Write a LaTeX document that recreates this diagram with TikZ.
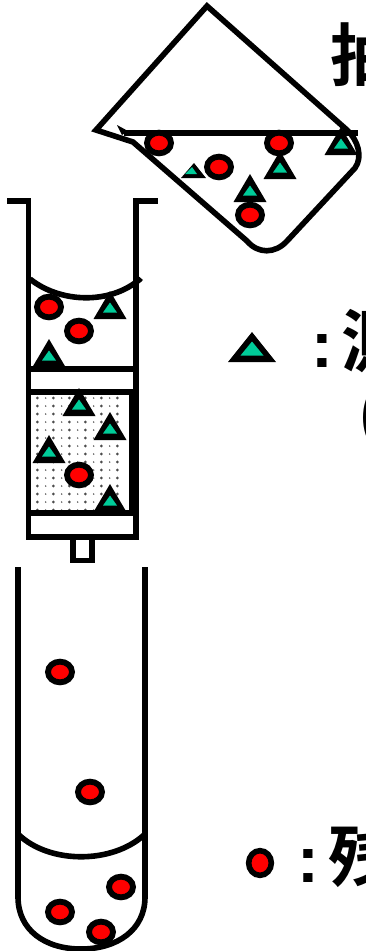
\documentclass[tikz,border=0pt]{standalone}
\usepackage{fontspec}
\usetikzlibrary{shapes.geometric}
\newfontfamily\cjk{Noto Sans CJK JP Bold}
\newfontfamily\colonfont{Liberation Sans Bold}
\definecolor{tgreen}{RGB}{0,204,153}
\tikzset{
  x=0.75pt,y=-0.75pt,
  wall/.style={draw=black,line width=4.2pt,line join=miter},
  bead/.style={ellipse,draw=black,fill=red,line width=4.4pt,inner sep=0pt,minimum width=18pt,minimum height=15.5pt},
  legendbead/.style={bead,line width=4.2pt,minimum width=17pt,minimum height=18.5pt},
  label/.style={inner sep=0pt,anchor=base west,font=\cjk\fontsize{51}{51}\selectfont},
  colonlabel/.style={inner sep=0pt,anchor=base west,font=\colonfont\fontsize{49}{49}\selectfont},
  tri/.pic={
    \fill[black] (-16.5,0) -- (0,-28) -- (16.5,0) -- cycle;
    \fill[tgreen] (-7,-6.5) -- (0,-16.5) -- (7,-6.5) -- cycle;
  },
  bigtri/.pic={
    \fill[black] (-24,0) -- (0,-30) -- (24,0) -- cycle;
    \fill[tgreen] (-11.5,-6.5) -- (0,-20.5) -- (11.5,-6.5) -- cycle;
  }
}
\begin{document}
\begin{tikzpicture}
\useasboundingbox (0,0) rectangle (366,951);
\clip (0,0) rectangle (366,951);
% packed filter
\foreach \i in {0,...,5} \foreach \j in {0,...,14} {
  \fill[black!70] ({37.3+16*\i},{398+8*\j}) circle (1.15pt);
  \ifnum\i<5 \fill[black!70] ({45.7+16*\i},{398+8*\j}) circle (0.6pt); \fi
}
% pouring vessel
\coordinate (apex) at (207,6);
\path pic at (341,155) {tri} pic at (280,179) {tri} pic at (250,202) {tri};
\fill[black] (181,178) -- (194,163) -- (206,178) -- cycle;
\fill[tgreen] (185,174) -- (192,167) -- (197,174) -- cycle;
\draw[wall] (apex) -- (347,130) .. controls (358,140) and (363,157) .. (355,168)
  -- (287,241) .. controls (275,254) and (258,254) .. (247,241) -- (133,142) -- (96,130) -- cycle;
\coordinate (lipA) at (124,133);
\coordinate (lipB) at (358,133);
\draw[wall] (lipA) -- (lipB);
\fill[black] (117,125) -- (128,131) -- (122,135) -- cycle;
\node[bead] (b1) at (159,143) {};
\node[bead] (b2) at (279,143) {};
\node[bead] (b3) at (219,167) {};
\node[bead] (b4) at (250,215) {};
% column
\coordinate (fl) at (7,201);
\coordinate (tl) at (28.5,201);
\coordinate (bl) at (28.5,537);
\coordinate (br) at (136,537);
\coordinate (tr) at (136,201);
\coordinate (fr) at (158,201);
\draw[wall] (fl) -- (tl) -- (bl) -- (br) -- (tr) -- (fr);
\draw[wall] (30,279) .. controls (60,303) and (110,305) .. (140,279);
\fill[black] (136,274) -- (143,280) -- (136,286) -- cycle;
\draw[wall] (28.5,369) -- (136,369);
\draw[wall] (28.5,392) -- (136,392);
\draw[wall,line width=4.5pt] (28.5,513) -- (136,513);
\fill[black] (129,392) rectangle (136,513);
\draw[wall] (73,537) -- (73,560.5) -- (92,560.5) -- (92,537);
\path pic at (110,319) {tri} pic at (49,367) {tri} pic at (79,416) {tri}
  pic at (110,440) {tri} pic at (49,463) {tri} pic at (110,512) {tri};
\node[bead] (c1) at (49,307) {};
\node[bead] (c2) at (79,331) {};
\node[bead] (c3) at (79,475) {};
% tube
\draw[wall] (18,567) -- (18,897) .. controls (18,930) and (45,949) .. (81,949)
  .. controls (117,949) and (145,930) .. (145,897) -- (145,567);
\draw[wall] (19,835) .. controls (50,864) and (112,864) .. (144,835);
\node[bead] (d1) at (60,672) {};
\node[bead] (d2) at (90,792) {};
\node[bead] (d3) at (121,887) {};
\node[bead] (d4) at (60,912) {};
\node[bead] (d5) at (101,932) {};
% legend
\path pic at (252,362) {bigtri};
\node[legendbead] (l1) at (260,863) {};
% texts
\node[label] (t1) at (330,80) {抽};
\node[colonlabel] (t2) at (311,367) {:};
\node[label] (t3) at (341,366) {測};
\node[label,font=\cjk\fontsize{44}{44}\selectfont] (t4) at (358,436) {(};
\node[colonlabel] (t5) at (297,882) {:};
\node[label] (t6) at (328,881) {残};
\end{tikzpicture}
\end{document}
